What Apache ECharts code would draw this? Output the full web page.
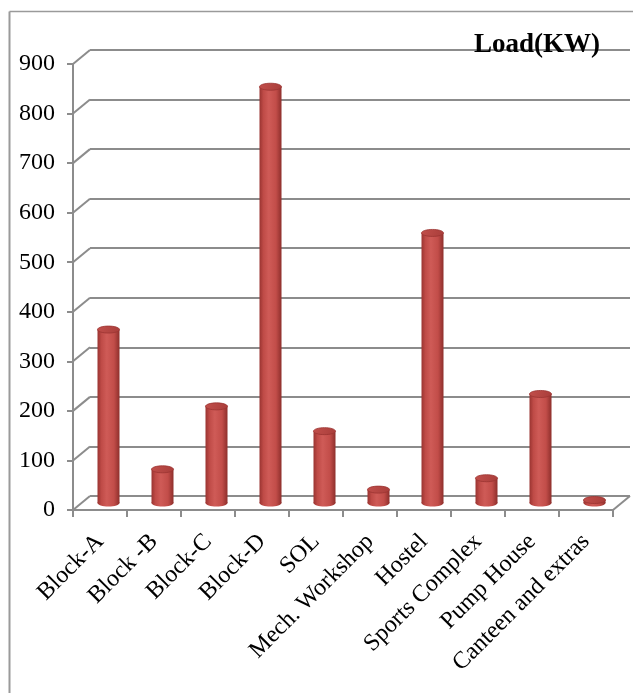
<!DOCTYPE html>
<html>
<head>
<meta charset="utf-8">
<script src="https://cdn.jsdelivr.net/npm/echarts@6/dist/echarts.min.js"></script>
<style>
  html, body { margin: 0; padding: 0; background: #fff; }
  #chart { width: 633px; height: 693px; }
</style>
</head>
<body>
<div id="chart"></div>
<script>
// Connected load per building (kW)
const categories = ['Block-A', 'Block -B', 'Block-C', 'Block-D', 'SOL', 'Mech. Workshop',
                    'Hostel', 'Sports Complex', 'Pump House', 'Canteen and extras'];
const loads = [350, 68, 195, 840, 145, 27, 545, 50, 220, 6];
const yTicks = [0, 100, 200, 300, 400, 500, 600, 700, 800, 900];
const titleText = 'Load(KW)';

// Layout of the pseudo-3D box: the front plane and the depth vector to the back wall
const FRONT = { left: 73, right: 20, top: 64, bottom: 183 };
const DEPTH = { x: 17, y: -14 };
const LINE = '#8c8c8c';
const FONT = 'Liberation Serif';

function plane(f) {
  return {
    left: FRONT.left + DEPTH.x * f,
    right: FRONT.right - DEPTH.x * f,
    top: FRONT.top + DEPTH.y * f,
    bottom: FRONT.bottom - DEPTH.y * f,
    containLabel: false
  };
}

const yMin = yTicks[0], yMax = yTicks[yTicks.length - 1], yStep = yTicks[1] - yTicks[0];

function hiddenX(gridIndex) {
  return { type: 'category', data: categories, gridIndex, show: false };
}
function hiddenY(gridIndex, showSplit) {
  return {
    type: 'value', gridIndex, min: yMin, max: yMax, interval: yStep,
    axisLine: { show: false }, axisTick: { show: false }, axisLabel: { show: false },
    splitLine: { show: showSplit, lineStyle: { color: LINE, width: 2 } }
  };
}

// Side-wall connectors from the front axis ticks to the back-wall gridlines,
// plus the right edge of the floor.
function renderSideWall(params, api) {
  const v = api.value(1);
  const p = api.coord([0, v]);
  const band = api.size([1, 0])[0];
  const x0 = p[0] - band / 2;
  const children = [{
    type: 'line',
    shape: { x1: x0, y1: p[1], x2: x0 + DEPTH.x, y2: p[1] + DEPTH.y },
    style: { stroke: LINE, lineWidth: 2 }
  }];
  if (v === yMin) {
    const x1 = x0 + band * categories.length;
    children.push({
      type: 'line',
      shape: { x1: x1, y1: p[1], x2: x1 + DEPTH.x, y2: p[1] + DEPTH.y },
      style: { stroke: LINE, lineWidth: 2 }
    });
  }
  return { type: 'group', children };
}

// Cylinder columns standing halfway into the box depth
function renderCylinder(params, api) {
  const i = api.value(0);
  const top = api.coord([i, api.value(1)]);
  const base = api.coord([i, 0]);
  const rx = 11, ry = 3.5;
  const bodyFill = {
    type: 'linear', x: 0, y: 0, x2: 1, y2: 0,
    colorStops: [
      { offset: 0, color: '#9a3431' },
      { offset: 0.18, color: '#bf4b47' },
      { offset: 0.42, color: '#cf5b57' },
      { offset: 0.75, color: '#c24d49' },
      { offset: 1, color: '#8e2f2c' }
    ]
  };
  return {
    type: 'group',
    children: [
      { type: 'ellipse', shape: { cx: base[0], cy: base[1], rx, ry }, style: { fill: bodyFill } },
      { type: 'rect', shape: { x: top[0] - rx, y: top[1], width: rx * 2, height: base[1] - top[1] }, style: { fill: bodyFill } },
      {
        type: 'ellipse', shape: { cx: top[0], cy: top[1], rx, ry },
        style: {
          fill: { type: 'linear', x: 0, y: 0, x2: 1, y2: 1,
                  colorStops: [{ offset: 0, color: '#c24f4b' }, { offset: 1, color: '#a83d3a' }] },
          stroke: '#9a3431', lineWidth: 0.8
        }
      }
    ]
  };
}

const chart = echarts.init(document.getElementById('chart'), null, { renderer: 'canvas' });
chart.setOption({
  backgroundColor: '#ffffff',
  animation: false,
  title: {
    text: titleText, right: 28, top: 27,
    textStyle: { fontFamily: FONT, fontWeight: 'bold', fontSize: 27, color: '#000' }
  },
  graphic: [
    { type: 'line', shape: { x1: 9.5, y1: 11.5, x2: 640, y2: 11.5 }, style: { stroke: '#9a9a9a', lineWidth: 1.5 } },
    { type: 'line', shape: { x1: 9.5, y1: 11.5, x2: 9.5, y2: 700 }, style: { stroke: '#9a9a9a', lineWidth: 2 } }
  ],
  grid: [plane(0), plane(1), plane(0.5)],
  xAxis: [
    {
      type: 'category', data: categories, gridIndex: 0,
      axisLine: { show: true, lineStyle: { color: LINE, width: 2 } },
      axisTick: { show: true, length: 7, lineStyle: { color: LINE, width: 2 } },
      axisLabel: { rotate: 45, fontFamily: FONT, fontSize: 24, color: '#000', margin: 28, interval: 0 }
    },
    hiddenX(1), hiddenX(2)
  ],
  yAxis: [
    {
      type: 'value', gridIndex: 0, min: yMin, max: yMax, interval: yStep,
      axisLine: { show: true, lineStyle: { color: LINE, width: 2 } },
      axisTick: { show: true, length: 6, lineStyle: { color: LINE, width: 2 } },
      axisLabel: { fontFamily: FONT, fontSize: 24, color: '#000', margin: 18 },
      splitLine: { show: false }
    },
    hiddenY(1, true), hiddenY(2, false)
  ],
  series: [
    {
      type: 'custom', name: 'wall', xAxisIndex: 0, yAxisIndex: 0,
      data: yTicks.map(v => [0, v]), encode: { x: 0, y: 1 },
      renderItem: renderSideWall, silent: true
    },
    {
      type: 'custom', name: 'Load(KW)', xAxisIndex: 2, yAxisIndex: 2,
      data: loads.map((v, i) => [i, v]), encode: { x: 0, y: 1 },
      renderItem: renderCylinder
    }
  ]
});
</script>
</body>
</html>
